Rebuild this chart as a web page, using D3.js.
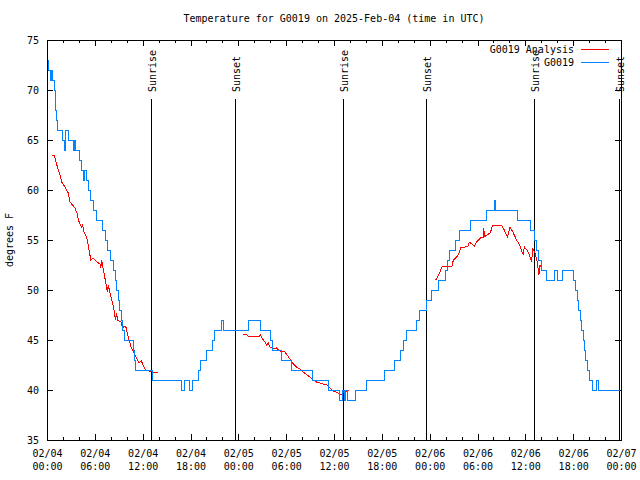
<!DOCTYPE html>
<html>
<head>
<meta charset="utf-8">
<script src="https://cdn.jsdelivr.net/npm/d3@7"></script>
<style>
  html, body { margin: 0; padding: 0; background: #fff; }
  svg { display: block; }
  text { font-family: "DejaVu Sans Mono", "Liberation Mono", monospace; font-size: 10px; fill: #000; }
</style>
</head>
<body>
<script>
// ---- data (hours since 2025-02-04 00:00 UTC) ----
const obsHours = [0.1,0.25,0.4,0.55,0.75,0.95,1.05,1.12,1.2,1.35,2.0,2.15,2.3,2.65,3.3,3.45,3.6,4.05,4.3,4.55,4.65,4.9,5.2,5.45,5.8,6.2,6.9,7.3,7.6,8.0,8.3,8.55,8.75,8.95,9.15,9.35,9.5,9.66,10.85,10.95,11.04,13.2,16.85,17.3,17.9,18.3,19.0,19.3,19.95,20.7,21.0,21.9,22.1,25.3,26.8,28.0,28.3,29.4,30.65,33.3,35.35,36.7,37.1,37.3,37.5,37.7,38.7,40.1,42.35,43.55,44.35,44.7,45.1,46.35,46.7,47.6,48.25,49.1,49.97,50.2,50.55,51.3,51.7,53.06,55.07,56.15,56.3,59.0,60.7,61.1,61.35,61.6,62.05,62.7,63.7,64.0,64.6,66.0,66.3,66.5,66.7,66.9,67.1,67.3,67.45,67.6,67.8,68.1,68.4,68.95,69.2,71.9];
const obsTemps = [73,72,71,72,71,70,69,68,67,66,65,64,66,65,64,65,64,63,62,61,62,61,60,59,58,57,56,55,54,53,52,51,50,49,48,47,46,45,44,43,42,41,40,41,40,41,42,43,44,45,46,47,46,47,46,45,44,43,42,41,40,39,40,39,40,39,40,41,42,43,44,45,46,47,48,49,50,51,52,53,54,55,56,57,58,59,58,57,56,55,54,53,52,51,52,51,52,51,50,49,48,47,46,45,44,43,42,41,40,41,40,40];

const anaHours = [0.6,0.9,1.13,1.42,1.63,1.84,2.26,2.67,2.9,3.5,3.8,3.93,4.2,4.35,4.45,4.64,4.85,5.06,5.27,5.5,5.8,6.3,6.65,6.75,6.86,6.95,7.15,7.36,7.57,7.7,7.86,8.2,8.4,8.6,8.74,8.85,9.3,9.45,9.6,9.87,10.07,10.29,10.58,10.9,11.25,11.54,11.83,12.17,12.38,12.8,13.2,13.97,
  null,
  24.6,24.84,25.25,25.67,26.1,26.5,26.8,27.05,27.35,27.55,27.76,27.97,28.4,28.8,29.2,29.85,30.3,30.7,31.3,31.7,32.15,32.6,33.0,33.4,33.8,34.25,34.66,35.1,35.5,35.9,36.3,36.75,37.0,37.2,37.6,37.9,
  null,
  48.75,49.0,49.3,49.5,49.8,50.8,50.97,51.4,51.7,51.9,52.4,52.85,52.97,53.3,53.6,53.9,54.5,54.75,54.8,54.85,55.15,55.6,55.9,56.4,57.0,57.3,57.75,58.07,58.5,58.9,59.3,59.5,59.75,59.87,60.2,60.5,60.8,60.9,61.2,61.5,61.7,61.85,62.0];
const anaTemps = [63.5,63.5,62.8,62.0,61.5,60.8,60.3,59.7,58.8,58.2,57.6,57.0,56.5,56.3,56.6,55.8,55.5,55.0,54.0,53.0,53.2,52.8,52.6,52.2,53.0,52.5,51.7,50.8,49.8,50.5,49.8,48.8,48.0,47.0,47.7,47.0,46.8,46.2,46.3,46.4,45.7,45.0,44.2,43.7,43.2,42.7,42.9,42.3,42.0,41.9,41.8,41.8,
  null,
  45.5,45.6,45.4,45.3,45.4,45.3,45.5,45.1,44.8,44.5,44.7,44.3,44.1,44.2,43.9,43.8,43.3,42.8,42.3,42.1,41.8,41.5,41.3,41.0,40.8,40.7,40.6,40.5,40.2,39.9,39.8,39.6,39.6,39.8,39.9,40.0,
  null,
  51.0,51.3,51.8,52.3,52.4,52.4,53.0,53.3,53.7,54.3,54.3,54.4,54.8,54.6,54.4,54.8,55.3,55.3,56.2,55.3,55.5,55.7,56.5,56.5,56.5,56.1,55.3,56.3,55.7,55.0,54.5,54.0,53.5,54.3,54.0,53.5,52.8,54.2,53.7,52.8,51.5,52.5,52.3];

const sunHours = [13.05, 23.52, 37.18, 47.58, 61.12, 71.79];
const sunLabels = ["Sunrise", "Sunset", "Sunrise", "Sunset", "Sunrise", "Sunset"];

const yTicks = [35, 40, 45, 50, 55, 60, 65, 70, 75];
const seriesNames = ["G0019 Analysis", "G0019"];
const seriesColors = ["#ff0000", "#0084ff"];
const titleText = "Temperature for G0019 on 2025-Feb-04 (time in UTC)";
const yLabel = "degrees F";

// ---- layout ----
const W = 640, H = 480;
const L = 47, R = 621, T = 40, B = 440;
const t0 = Date.UTC(2025, 1, 4, 0, 0);
const toDate = h => new Date(t0 + h * 3600e3);

const x = d3.scaleUtc().domain([toDate(0), toDate(72)]).range([L, R]);
const y = d3.scaleLinear().domain([35, 75]).range([B, T]);

const svg = d3.select("body").append("svg").attr("width", W).attr("height", H);
svg.append("rect").attr("width", W).attr("height", H).attr("fill", "#fff");

// title
svg.append("text").attr("x", (L + R) / 2).attr("y", 22).attr("text-anchor", "middle").text(titleText);

// y label
svg.append("text").attr("transform", `translate(13,${(T + B) / 2}) rotate(-90)`)
  .attr("text-anchor", "middle").text(yLabel);

// axes
const majorTicks = d3.utcHour.every(6).range(toDate(0), toDate(72.01));
const minorTicks = d3.utcHour.every(2).range(toDate(0), toDate(72.01));

svg.append("g").attr("transform", `translate(0,${B})`)
  .call(d3.axisBottom(x).tickValues(minorTicks).tickSizeInner(-3).tickSizeOuter(0).tickFormat(""));
svg.append("g").attr("transform", `translate(0,${T})`)
  .call(d3.axisTop(x).tickValues(minorTicks).tickSizeInner(-3).tickSizeOuter(0).tickFormat(""));
const gx = svg.append("g").attr("transform", `translate(0,${B})`)
  .call(d3.axisBottom(x).tickValues(majorTicks).tickSizeInner(-6).tickSizeOuter(0).tickFormat(""));
svg.append("g").attr("transform", `translate(0,${T})`)
  .call(d3.axisTop(x).tickValues(majorTicks).tickSizeInner(-6).tickSizeOuter(0).tickFormat(""));

gx.selectAll(".tick").append("text")
  .attr("text-anchor", "middle")
  .attr("fill", "#000")
  .each(function(d) {
    const t = d3.select(this);
    t.append("tspan").attr("x", 0).attr("y", 17).text(d3.utcFormat("%m/%d")(d));
    t.append("tspan").attr("x", 0).attr("y", 30).text(d3.utcFormat("%H:%M")(d));
  });

const gy = svg.append("g").attr("transform", `translate(${L},0)`)
  .call(d3.axisLeft(y).tickValues(yTicks).tickSizeInner(-6).tickSizeOuter(0).tickPadding(8).tickFormat(d3.format("d")));
svg.append("g").attr("transform", `translate(${R},0)`)
  .call(d3.axisRight(y).tickValues(yTicks).tickSizeInner(-6).tickSizeOuter(0).tickFormat(""));

svg.selectAll(".domain").remove();
svg.selectAll(".tick line").attr("stroke", "#000").attr("shape-rendering", "crispEdges");
gy.selectAll("text").attr("dy", "0.35em");
svg.selectAll("g").attr("font-family", null).attr("font-size", null);

// frame
svg.append("rect").attr("x", L).attr("y", T).attr("width", R - L).attr("height", B - T)
  .attr("fill", "none").attr("stroke", "#000").attr("shape-rendering", "crispEdges");

// sun lines
const sunG = svg.append("g");
sunHours.forEach((h, i) => {
  const sx = Math.round(x(toDate(h))) + 0.5;
  sunG.append("line").attr("x1", sx).attr("x2", sx).attr("y1", y(69.1)).attr("y2", B)
    .attr("stroke", "#000").attr("stroke-width", 1);
  sunG.append("text").attr("transform", `translate(${sx + 4.5},92) rotate(-90)`)
    .attr("text-anchor", "start").text(sunLabels[i]);
});

// data lines
const obs = obsHours.map((h, i) => [toDate(h), obsTemps[i]]);
const ana = anaHours.map((h, i) => [h === null ? null : toDate(h), anaTemps[i]]);

svg.append("clipPath").attr("id", "clip").append("rect")
  .attr("x", L).attr("y", T).attr("width", R - L).attr("height", B - T);

svg.append("path").datum(ana)
  .attr("clip-path", "url(#clip)")
  .attr("fill", "none").attr("stroke", seriesColors[0]).attr("stroke-width", 1)
  .attr("shape-rendering", "crispEdges")
  .attr("d", d3.line().defined(d => d[0] !== null && d[1] !== null).x(d => x(d[0])).y(d => y(d[1])));

svg.append("path").datum(obs)
  .attr("clip-path", "url(#clip)")
  .attr("fill", "none").attr("stroke", seriesColors[1]).attr("stroke-width", 1)
  .attr("shape-rendering", "crispEdges")
  .attr("d", d3.line().curve(d3.curveStepAfter).x(d => x(d[0])).y(d => y(d[1])));

// legend
const lg = svg.append("g");
seriesNames.forEach((name, i) => {
  const ly = 49.5 + i * 13;
  lg.append("text").attr("x", 574).attr("y", ly).attr("dy", "0.35em").attr("text-anchor", "end").text(name);
  lg.append("line").attr("x1", 581).attr("x2", 609).attr("y1", ly).attr("y2", ly)
    .attr("stroke", seriesColors[i]).attr("stroke-width", 1).attr("shape-rendering", "crispEdges");
});
</script>
</body>
</html>
